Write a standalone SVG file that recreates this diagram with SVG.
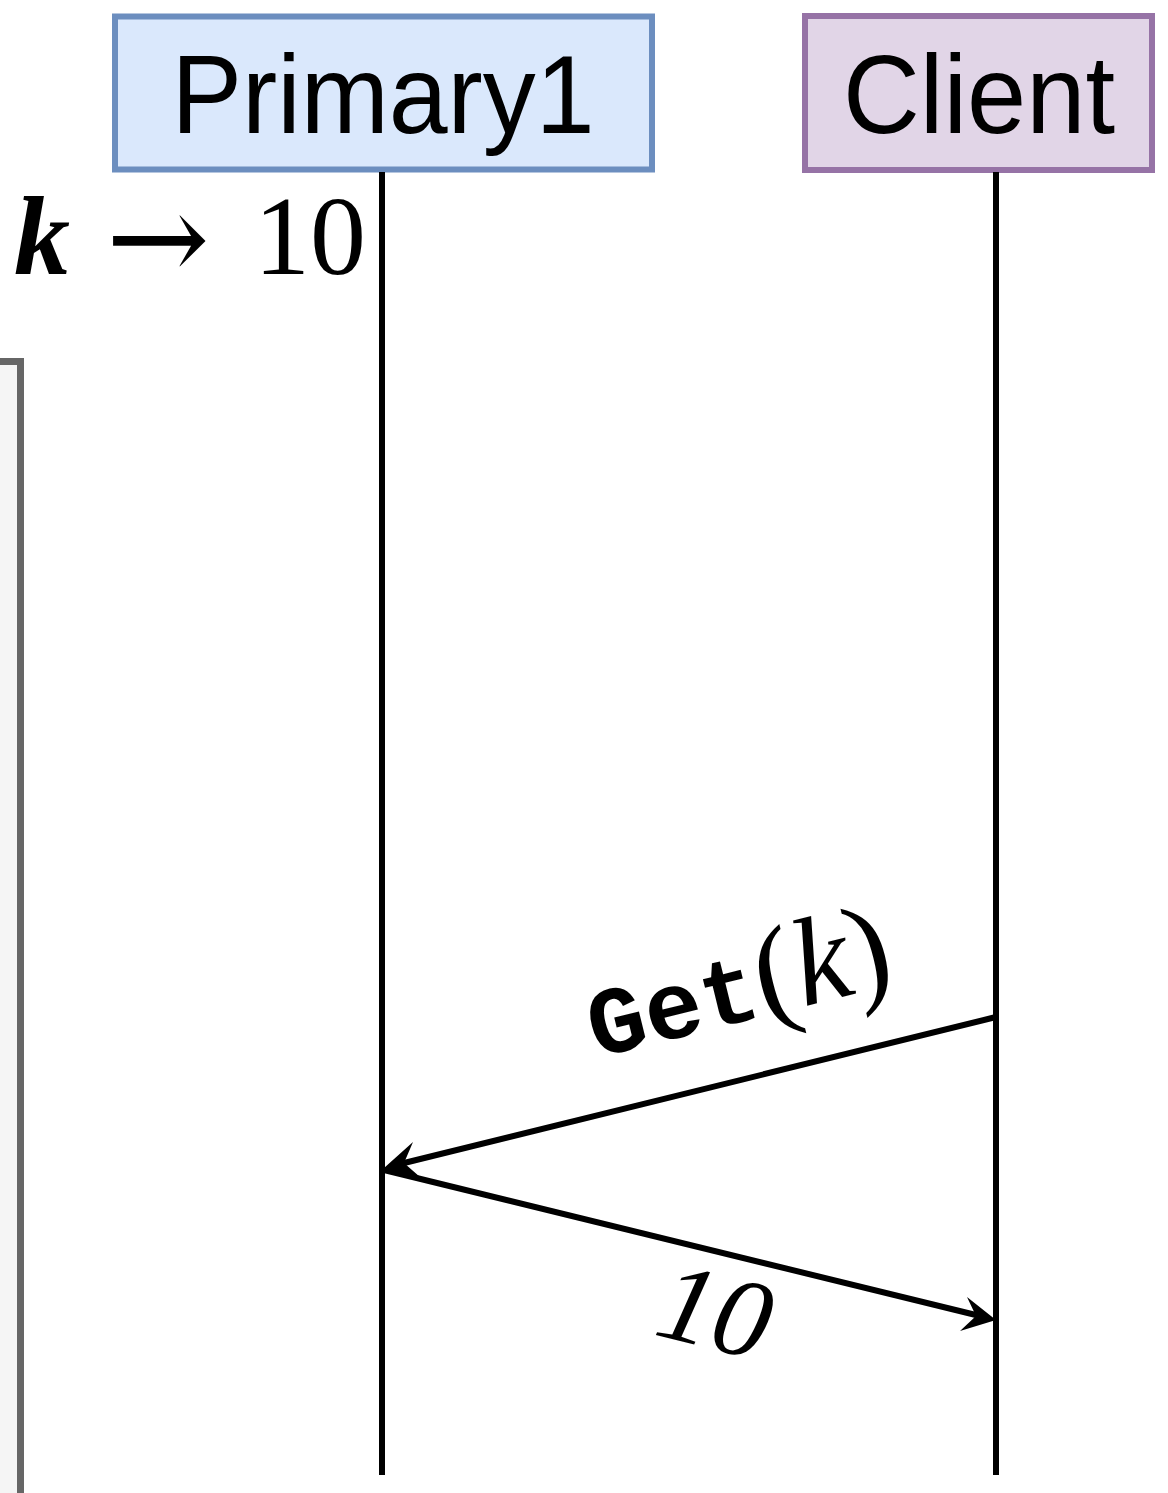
<svg xmlns="http://www.w3.org/2000/svg" width="1168" height="1493" viewBox="0 0 1168 1493">
<style>
.lbl{font-family:"Liberation Sans","DejaVu Sans",sans-serif;fill:#000}
.math{font-family:"Liberation Serif","DejaVu Serif",serif;fill:#000}
.mono{font-family:"Liberation Mono","DejaVu Sans Mono",monospace;font-weight:bold;fill:#000}
.life{stroke:#000;stroke-width:6;fill:none}
.msg{stroke:#000;stroke-width:6;fill:none}
</style>
<rect width="1168" height="1493" fill="#fff"/>
<g id="store">
<rect x="-40" y="361.5" width="60.5" height="1160" fill="#f5f5f5" stroke="#666666" stroke-width="7"/>
</g>
<g id="primary1">
<rect x="115" y="16.5" width="537" height="153" fill="#dae8fc" stroke="#6c8ebf" stroke-width="6"/>
<text class="lbl" x="383" y="133" font-size="112" text-anchor="middle" textLength="423" lengthAdjust="spacingAndGlyphs">Primary1</text>
</g>
<g id="client">
<rect x="805" y="16" width="347" height="154" fill="#e1d5e7" stroke="#9673a6" stroke-width="6"/>
<text class="lbl" x="979" y="133" font-size="112" text-anchor="middle" textLength="272" lengthAdjust="spacingAndGlyphs">Client</text>
</g>
<g id="state">
<text class="math" y="274" font-size="112"><tspan x="14" font-style="italic" font-weight="bold">k</tspan><tspan x="106" y="281" font-family="DejaVu Serif, serif" font-size="124">→</tspan><tspan x="254" y="274">10</tspan></text>
</g>
<g id="connectors">
<line class="life" x1="382" y1="172" x2="382" y2="1475"/>
<line class="life" x1="996" y1="172" x2="996" y2="1475"/>
<line class="msg" x1="996" y1="1017" x2="400" y2="1164"/>
<path d="M384,1168 L413,1142 L404,1163 L420,1177 Z" fill="#000"/>
<line class="msg" x1="384" y1="1170" x2="980" y2="1316"/>
<path d="M996,1320 L960,1331 L976,1316 L967,1297 Z" fill="#000"/>
</g>
<g id="labels">
<text transform="translate(596,1058) rotate(-13.9)" font-size="96"><tspan class="mono">Get</tspan><tspan class="math" font-size="124">(<tspan font-style="italic">k</tspan>)</tspan></text>
<text class="math" transform="translate(652,1334) rotate(13.9)" font-size="112" font-style="italic">10</text>
</g>
</svg>
